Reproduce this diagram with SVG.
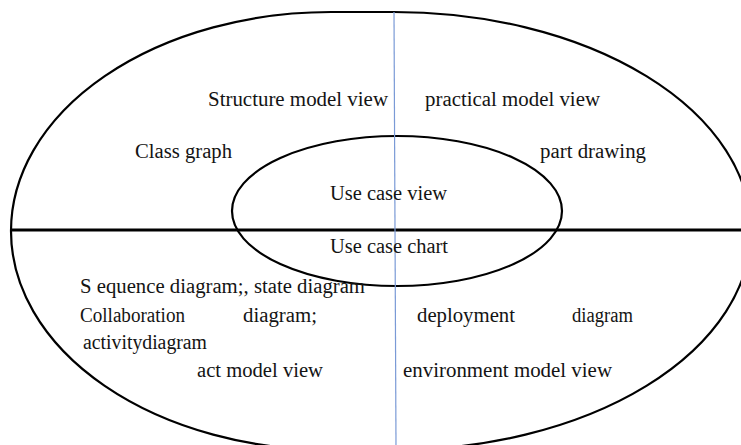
<svg xmlns="http://www.w3.org/2000/svg" width="741" height="445" viewBox="0 0 741 445">
<style>
text{font-family:'Liberation Serif','Times New Roman','DejaVu Serif',serif;font-size:20.5px;fill:#141414;}
.ln{fill:none;stroke:#000;}
</style>
<rect width="741" height="445" fill="#fff"/>
<g id="connectors">
<path id="outer" class="ln" stroke-width="2.2" d="M 11,231 A 320,219 0 0 1 331,12 L 394,12 A 357,219 0 0 1 751,231 A 357,219 0 0 1 394,450 L 331,450 A 320,219 0 0 1 11,231 Z"/>
<ellipse id="inner" class="ln" stroke-width="2.2" cx="397" cy="211" rx="165" ry="75"/>
<line id="hline" x1="11" y1="230" x2="741" y2="230" stroke="#000" stroke-width="2.8"/>
<line id="vline" x1="394" y1="12" x2="396" y2="445" stroke="#7a9ad6" stroke-width="1.2"/>
</g>
<g id="structure-view"><text font-family="Liberation Serif, serif" x="208" y="106" textLength="180" lengthAdjust="spacingAndGlyphs">Structure model view</text></g>
<g id="practical-view"><text font-family="Liberation Serif, serif" x="425" y="106" textLength="175" lengthAdjust="spacingAndGlyphs">practical model view</text></g>
<g id="class-graph"><text font-family="Liberation Serif, serif" x="135" y="158" textLength="97" lengthAdjust="spacingAndGlyphs">Class graph</text></g>
<g id="part-drawing"><text font-family="Liberation Serif, serif" x="540" y="158" textLength="106" lengthAdjust="spacingAndGlyphs">part drawing</text></g>
<g id="use-case-view"><text font-family="Liberation Serif, serif" x="330" y="200" textLength="117" lengthAdjust="spacingAndGlyphs">Use case view</text></g>
<g id="use-case-chart"><text font-family="Liberation Serif, serif" x="330" y="253" textLength="118" lengthAdjust="spacingAndGlyphs">Use case chart</text></g>
<g id="act-diagrams">
<text font-family="Liberation Serif, serif" x="80" y="293" textLength="285" lengthAdjust="spacingAndGlyphs">S equence diagram;, state diagram</text>
<text font-family="Liberation Serif, serif" x="80" y="322" textLength="105" lengthAdjust="spacingAndGlyphs">Collaboration</text>
<text font-family="Liberation Serif, serif" x="243" y="322" textLength="74" lengthAdjust="spacingAndGlyphs">diagram;</text>
<text font-family="Liberation Serif, serif" x="83" y="349" textLength="124" lengthAdjust="spacingAndGlyphs">activitydiagram</text>
</g>
<g id="act-view"><text font-family="Liberation Serif, serif" x="197" y="377" textLength="126" lengthAdjust="spacingAndGlyphs">act model view</text></g>
<g id="deployment">
<text font-family="Liberation Serif, serif" x="417" y="322" textLength="98" lengthAdjust="spacingAndGlyphs">deployment</text>
<text font-family="Liberation Serif, serif" x="572" y="322" textLength="61" lengthAdjust="spacingAndGlyphs">diagram</text>
</g>
<g id="environment-view"><text font-family="Liberation Serif, serif" x="403" y="377" textLength="209" lengthAdjust="spacingAndGlyphs">environment model view</text></g>
</svg>
